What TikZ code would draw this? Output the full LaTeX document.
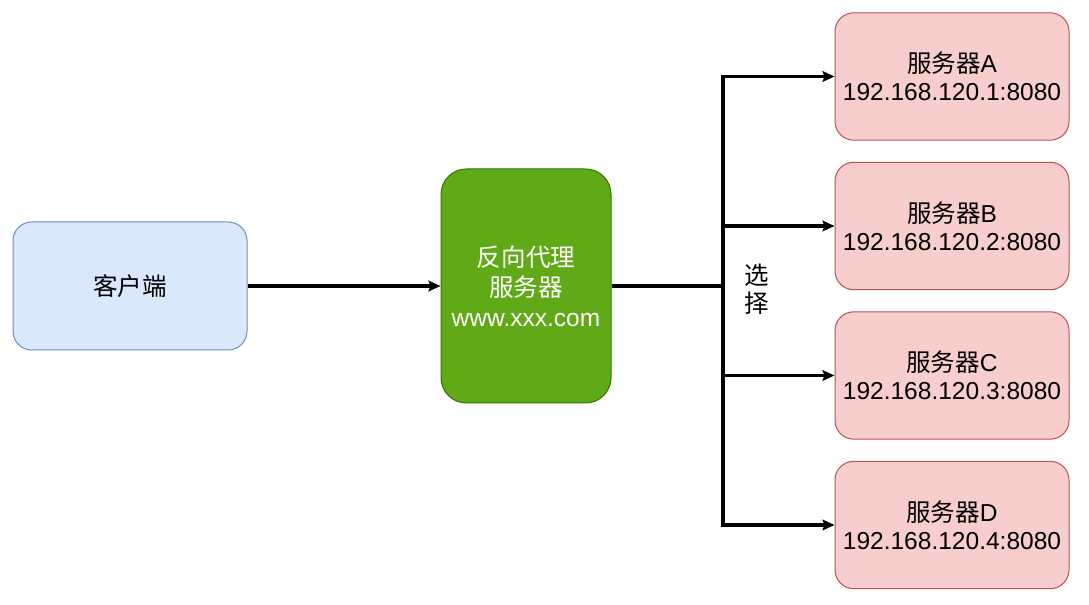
\documentclass[tikz,border=0pt]{standalone}
\usepackage{fontspec}
\setmainfont{Liberation Sans}
\newfontfamily\cjk{Noto Sans CJK SC}
\usetikzlibrary{arrows.meta}

\definecolor{clientfill}{HTML}{DAE8FC}
\definecolor{clientline}{HTML}{6C8EBF}
\definecolor{proxyfill}{HTML}{60A917}
\definecolor{proxyline}{HTML}{2D7600}
\definecolor{serverfill}{HTML}{F8CECC}
\definecolor{serverline}{HTML}{B85450}

\begin{document}
\begin{tikzpicture}[x=0.75pt,y=-0.75pt,
    every node/.style={font=\fontsize{18.4pt}{21pt}\selectfont, align=center},
    client/.style={draw=clientline, fill=clientfill, line width=0.75pt, rounded corners=14pt,
      minimum width=175.5pt, minimum height=96pt},
    proxy/.style={draw=proxyline, fill=proxyfill, line width=0.75pt, text=white, rounded corners=19pt,
      minimum width=127.5pt, minimum height=175.5pt},
    server/.style={draw=serverline, fill=serverfill, line width=0.75pt, rounded corners=14pt,
      minimum width=175.5pt, minimum height=95.5pt},
    link/.style={line width=2.4pt, -{Stealth[length=9pt,width=8pt,inset=1.5pt]}}]
  \useasboundingbox (0,0) rectangle (1089,605);

  \node[client] (client) at (130,286) {\cjk 客户端};
  \node[proxy] (proxy) at (526,286)
    {\cjk 反向代理\\[1.5pt]\cjk 服务器\\[1.5pt]www.xxx.com};

  \node[server] (srva) at (952,76.5) {{\cjk 服务器}A\\192.168.120.1:8080};
  \node[server] (srvb) at (952,226) {{\cjk 服务器}B\\192.168.120.2:8080};
  \node[server] (srvc) at (952,375.5) {{\cjk 服务器}C\\192.168.120.3:8080};
  \node[server] (srvd) at (952,525) {{\cjk 服务器}D\\192.168.120.4:8080};

  % client to proxy
  \draw[link] (client) -- (proxy);

  % fork to the servers
  \coordinate (fork) at (723,286);
  \draw[line width=2.4pt] (proxy.east) -- (fork);
  \foreach \s in {srva,srvb,srvc,srvd}
    \draw[link] (fork) |- (\s.west);

  \node (choose) at (757,289) {\cjk 选\\\cjk 择};
\end{tikzpicture}
\end{document}
